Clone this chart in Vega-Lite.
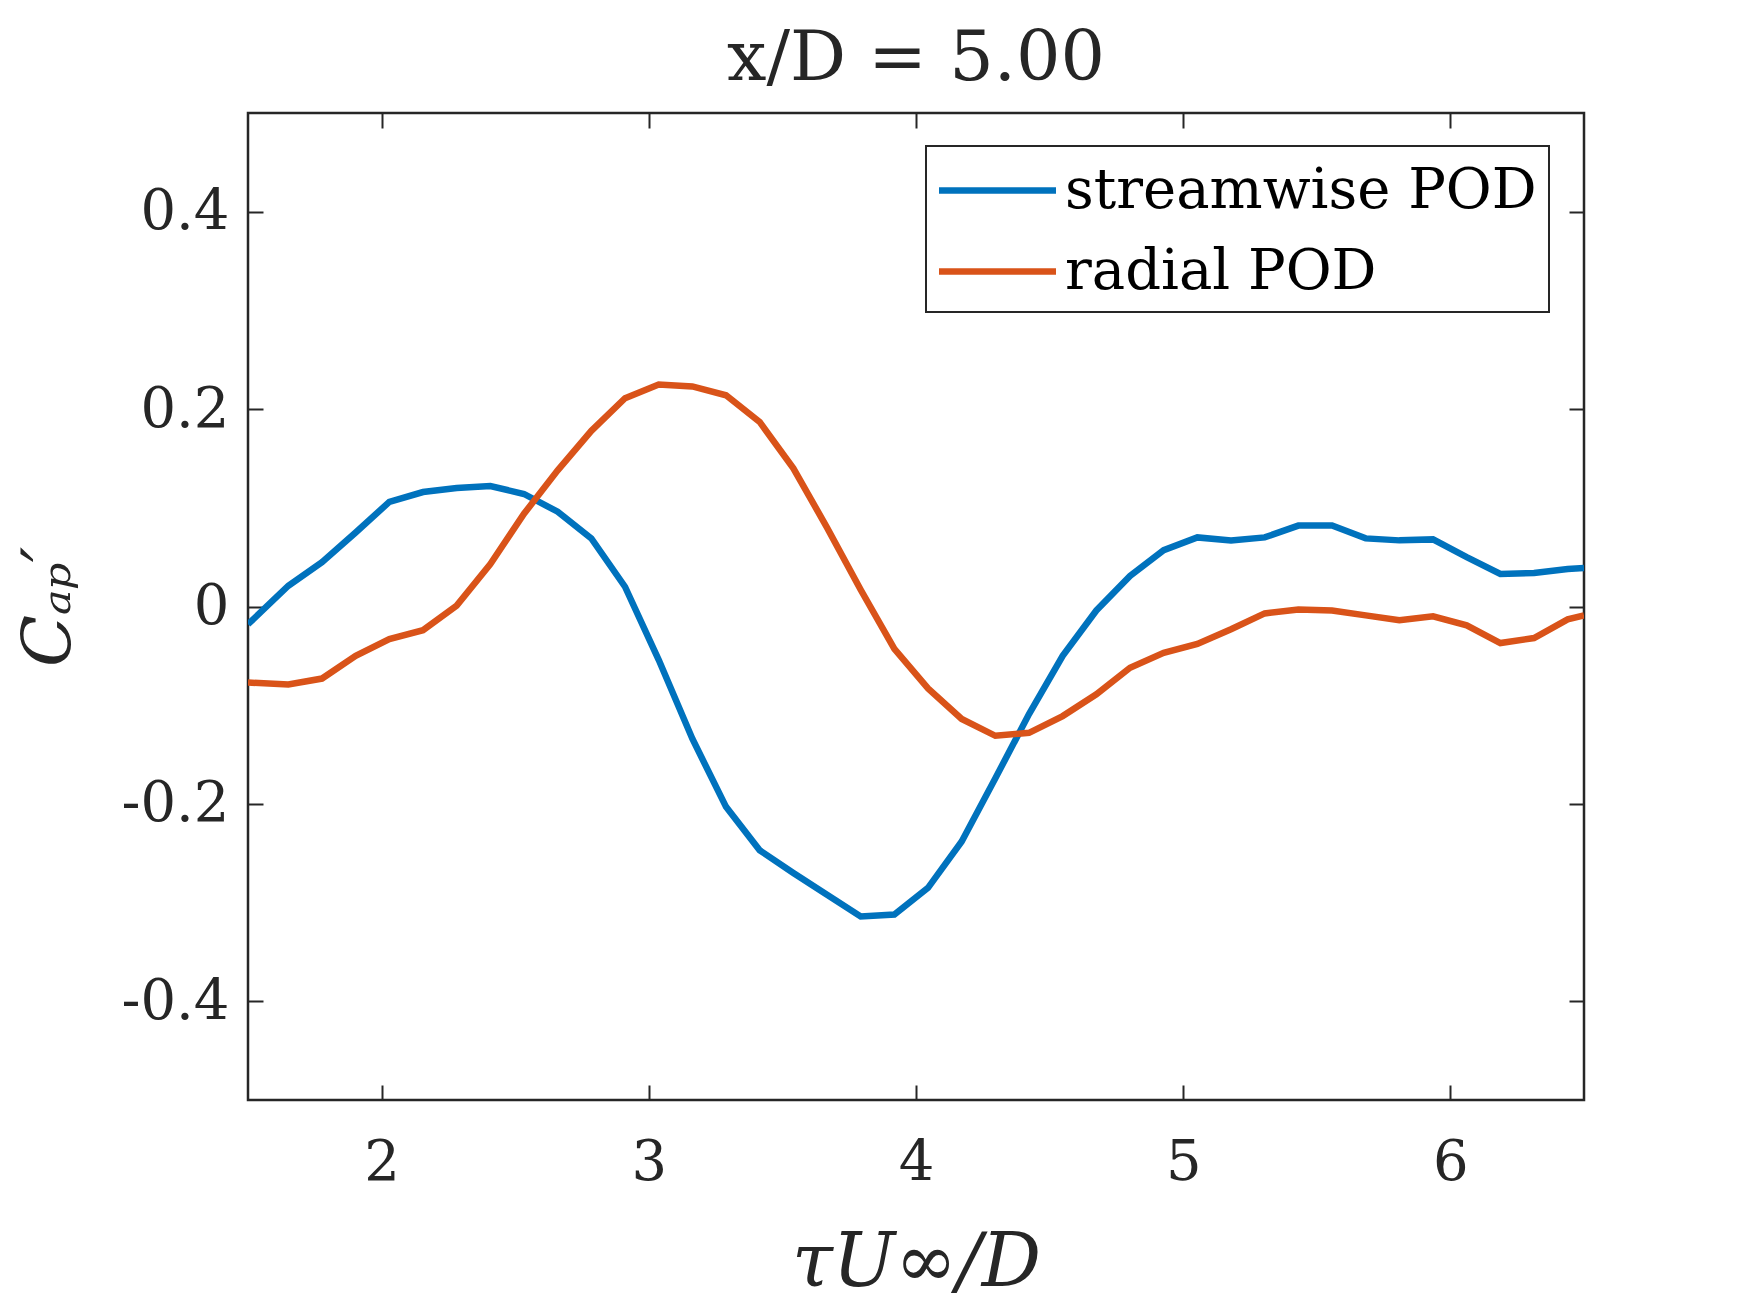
{
  "$schema": "https://vega.github.io/schema/vega-lite/v6.json",
  "width": 1336,
  "height": 987,
  "autosize": {"type": "none"},
  "padding": {"left": 248, "top": 113, "right": 166, "bottom": 213},
  "background": "white",
  "title": {
    "text": "x/D = 5.00",
    "fontSize": 70,
    "font": "DejaVu Serif",
    "fontWeight": "normal",
    "color": "#262626",
    "anchor": "middle",
    "baseline": "alphabetic",
    "offset": 29,
    "dy": 67
  },
  "config": {
    "font": "DejaVu Serif",
    "view": {"stroke": "#262626", "strokeWidth": 2.5},
    "axis": {
      "domain": false,
      "grid": false,
      "tickSize": -15,
      "tickWidth": 2,
      "tickColor": "#262626",
      "labelFont": "DejaVu Serif",
      "labelFontSize": 56,
      "labelColor": "#262626",
      "titleFont": "DejaVu Serif",
      "titleFontSize": 68,
      "titleFontWeight": "normal",
      "titleFontStyle": "italic",
      "titleColor": "#262626"
    }
  },
  "data": {
    "values": [
      {"t": 1.5, "s": "streamwise POD", "c": -0.018},
      {"t": 1.651, "s": "streamwise POD", "c": 0.021},
      {"t": 1.777, "s": "streamwise POD", "c": 0.045},
      {"t": 1.903, "s": "streamwise POD", "c": 0.075},
      {"t": 2.029, "s": "streamwise POD", "c": 0.106},
      {"t": 2.155, "s": "streamwise POD", "c": 0.116},
      {"t": 2.281, "s": "streamwise POD", "c": 0.12},
      {"t": 2.407, "s": "streamwise POD", "c": 0.122},
      {"t": 2.533, "s": "streamwise POD", "c": 0.114},
      {"t": 2.659, "s": "streamwise POD", "c": 0.096},
      {"t": 2.785, "s": "streamwise POD", "c": 0.069},
      {"t": 2.911, "s": "streamwise POD", "c": 0.02},
      {"t": 3.037, "s": "streamwise POD", "c": -0.054},
      {"t": 3.163, "s": "streamwise POD", "c": -0.134},
      {"t": 3.289, "s": "streamwise POD", "c": -0.203},
      {"t": 3.415, "s": "streamwise POD", "c": -0.247},
      {"t": 3.541, "s": "streamwise POD", "c": -0.27},
      {"t": 3.667, "s": "streamwise POD", "c": -0.292},
      {"t": 3.793, "s": "streamwise POD", "c": -0.314},
      {"t": 3.919, "s": "streamwise POD", "c": -0.312},
      {"t": 4.045, "s": "streamwise POD", "c": -0.285},
      {"t": 4.171, "s": "streamwise POD", "c": -0.238},
      {"t": 4.297, "s": "streamwise POD", "c": -0.174},
      {"t": 4.423, "s": "streamwise POD", "c": -0.109},
      {"t": 4.549, "s": "streamwise POD", "c": -0.05},
      {"t": 4.675, "s": "streamwise POD", "c": -0.004},
      {"t": 4.801, "s": "streamwise POD", "c": 0.031},
      {"t": 4.927, "s": "streamwise POD", "c": 0.057},
      {"t": 5.053, "s": "streamwise POD", "c": 0.07},
      {"t": 5.179, "s": "streamwise POD", "c": 0.067},
      {"t": 5.305, "s": "streamwise POD", "c": 0.07},
      {"t": 5.431, "s": "streamwise POD", "c": 0.082},
      {"t": 5.557, "s": "streamwise POD", "c": 0.082},
      {"t": 5.683, "s": "streamwise POD", "c": 0.069},
      {"t": 5.809, "s": "streamwise POD", "c": 0.067},
      {"t": 5.935, "s": "streamwise POD", "c": 0.068},
      {"t": 6.061, "s": "streamwise POD", "c": 0.05},
      {"t": 6.187, "s": "streamwise POD", "c": 0.033},
      {"t": 6.313, "s": "streamwise POD", "c": 0.034},
      {"t": 6.439, "s": "streamwise POD", "c": 0.038},
      {"t": 6.5, "s": "streamwise POD", "c": 0.039},
      {"t": 1.5, "s": "radial POD", "c": -0.077},
      {"t": 1.651, "s": "radial POD", "c": -0.079},
      {"t": 1.777, "s": "radial POD", "c": -0.073},
      {"t": 1.903, "s": "radial POD", "c": -0.05},
      {"t": 2.029, "s": "radial POD", "c": -0.033},
      {"t": 2.155, "s": "radial POD", "c": -0.024},
      {"t": 2.281, "s": "radial POD", "c": 0.001},
      {"t": 2.407, "s": "radial POD", "c": 0.043},
      {"t": 2.533, "s": "radial POD", "c": 0.094},
      {"t": 2.659, "s": "radial POD", "c": 0.138},
      {"t": 2.785, "s": "radial POD", "c": 0.178},
      {"t": 2.911, "s": "radial POD", "c": 0.211},
      {"t": 3.037, "s": "radial POD", "c": 0.225},
      {"t": 3.163, "s": "radial POD", "c": 0.223},
      {"t": 3.289, "s": "radial POD", "c": 0.214},
      {"t": 3.415, "s": "radial POD", "c": 0.187},
      {"t": 3.541, "s": "radial POD", "c": 0.14},
      {"t": 3.667, "s": "radial POD", "c": 0.08},
      {"t": 3.793, "s": "radial POD", "c": 0.017},
      {"t": 3.919, "s": "radial POD", "c": -0.043},
      {"t": 4.045, "s": "radial POD", "c": -0.083},
      {"t": 4.171, "s": "radial POD", "c": -0.114},
      {"t": 4.297, "s": "radial POD", "c": -0.131},
      {"t": 4.423, "s": "radial POD", "c": -0.128},
      {"t": 4.549, "s": "radial POD", "c": -0.111},
      {"t": 4.675, "s": "radial POD", "c": -0.089},
      {"t": 4.801, "s": "radial POD", "c": -0.062},
      {"t": 4.927, "s": "radial POD", "c": -0.047},
      {"t": 5.053, "s": "radial POD", "c": -0.038},
      {"t": 5.179, "s": "radial POD", "c": -0.023},
      {"t": 5.305, "s": "radial POD", "c": -0.007},
      {"t": 5.431, "s": "radial POD", "c": -0.003},
      {"t": 5.557, "s": "radial POD", "c": -0.004},
      {"t": 5.683, "s": "radial POD", "c": -0.009},
      {"t": 5.809, "s": "radial POD", "c": -0.014},
      {"t": 5.935, "s": "radial POD", "c": -0.01},
      {"t": 6.061, "s": "radial POD", "c": -0.019},
      {"t": 6.187, "s": "radial POD", "c": -0.037},
      {"t": 6.313, "s": "radial POD", "c": -0.032},
      {"t": 6.439, "s": "radial POD", "c": -0.013},
      {"t": 6.5, "s": "radial POD", "c": -0.009}
    ]
  },
  "layer": [
    {
      "transform": [{"filter": "datum.s == 'streamwise POD'"}],
      "mark": {"type": "line", "strokeWidth": 6.5, "clip": true},
      "encoding": {
        "x": {
          "field": "t",
          "type": "quantitative",
          "scale": {"domain": [1.5, 6.5], "nice": false, "zero": false},
          "axis": {
            "orient": "bottom",
            "values": [2, 3, 4, 5, 6],
            "labelPadding": 50,
            "title": "τU∞/D",
            "titleFontSize": 74,
            "titleY": 185,
            "titleBaseline": "alphabetic"
          }
        },
        "y": {
          "field": "c",
          "type": "quantitative",
          "scale": {"domain": [-0.5, 0.5], "nice": false},
          "axis": {
            "orient": "left",
            "values": [-0.4, -0.2, 0, 0.2, 0.4],
            "labelExpr": "datum.value == 0 ? '0' : replace(format(datum.value, '.1f'), '\u2212', '-')",
            "labelPadding": 34,
            "title": "Cₐₚ′",
            "titleX": -179,
            "titleBaseline": "alphabetic"
          }
        },
        "color": {
          "field": "s",
          "type": "nominal",
          "scale": {
            "domain": ["streamwise POD", "radial POD"],
            "range": ["#0072BD", "#D95319"]
          },
          "legend": {
            "title": null,
            "orient": "none",
            "legendX": 678,
            "legendY": 33,
            "symbolType": "M-2,0L2,0",
            "symbolSize": 3422,
            "symbolStrokeWidth": 6.5,
            "symbolOffset": 27,
            "labelFont": "DejaVu Serif",
            "labelFontSize": 56,
            "labelColor": "black",
            "labelOffset": 35,
            "labelLimit": 900,
            "padding": 12,
            "rowPadding": 20,
            "strokeColor": "#262626",
            "fillColor": "white",
            "encode": {"legend": {"update": {"strokeWidth": {"value": 2}}}}
          }
        }
      }
    },
    {
      "transform": [{"filter": "datum.s == 'radial POD'"}],
      "mark": {"type": "line", "strokeWidth": 6.5, "clip": true},
      "encoding": {
        "x": {
          "field": "t",
          "type": "quantitative",
          "axis": {"orient": "top", "values": [2, 3, 4, 5, 6], "labels": false, "title": null}
        },
        "y": {
          "field": "c",
          "type": "quantitative",
          "axis": {"orient": "right", "values": [-0.4, -0.2, 0, 0.2, 0.4], "labels": false, "title": null}
        },
        "color": {"field": "s", "type": "nominal"}
      }
    }
  ],
  "resolve": {"axis": {"x": "independent", "y": "independent"}}
}
